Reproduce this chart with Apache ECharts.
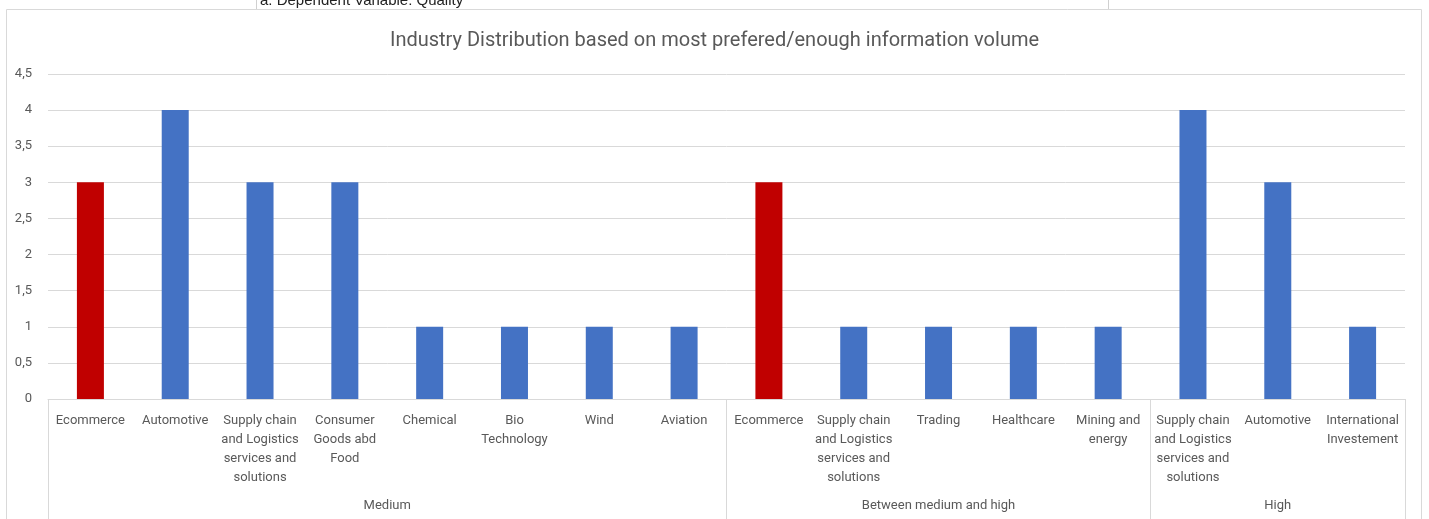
<!DOCTYPE html>
<html>
<head>
<meta charset="utf-8">
<script src="https://cdn.jsdelivr.net/npm/echarts@6/dist/echarts.min.js"></script>
<style>
  html, body { margin: 0; padding: 0; background: #fff; }
  #main { width: 1429px; height: 519px; }
</style>
</head>
<body>
<div id="main"></div>
<script>
// data
const categories = [
  'Ecommerce', 'Automotive', 'Supply chain\nand Logistics\nservices and\nsolutions',
  'Consumer\nGoods abd\nFood', 'Chemical', 'Bio\nTechnology', 'Wind', 'Aviation',
  'Ecommerce', 'Supply chain\nand Logistics\nservices and\nsolutions', 'Trading',
  'Healthcare', 'Mining and\nenergy',
  'Supply chain\nand Logistics\nservices and\nsolutions', 'Automotive',
  'International\nInvestement'
];
const values = [3, 4, 3, 3, 1, 1, 1, 1, 3, 1, 1, 1, 1, 4, 3, 1];
const groups = ['Medium', 'Between medium and high', 'High'];
const groupSizes = [8, 5, 3];
const highlighted = 'Ecommerce';
const yTicks = [0, 0.5, 1, 1.5, 2, 2.5, 3, 3.5, 4, 4.5];

// group boundaries / centres on a 0..16 value axis
const bounds = [0];
groupSizes.forEach(n => bounds.push(bounds[bounds.length - 1] + n));
const centres = groups.map((g, i) => (bounds[i] + bounds[i + 1]) / 2);

const font = 'Roboto, "Open Sans", sans-serif';
const grey = '#595959';

const myChart = echarts.init(document.getElementById('main'));

const option = {
  animation: false,
  title: {
    text: 'Industry Distribution based on most prefered/enough information volume',
    left: 'center',
    top: 26,
    textStyle: { fontFamily: font, fontSize: 20, fontWeight: 'normal', color: grey }
  },
  graphic: [
    { type: 'rect', shape: { x: 6.5, y: 9.5, width: 1415, height: 520 },
      style: { fill: 'none', stroke: '#d9d9d9', lineWidth: 1 }, z: -1 },
    { type: 'line', shape: { x1: 256.5, y1: 0, x2: 256.5, y2: 9 },
      style: { stroke: '#d0d0d0', lineWidth: 1 } },
    { type: 'line', shape: { x1: 1108.5, y1: 0, x2: 1108.5, y2: 9 },
      style: { stroke: '#d0d0d0', lineWidth: 1 } },
    { type: 'text', left: 260, top: -7,
      style: { text: 'a. Dependent Variable: Quality', fontFamily: 'Liberation Sans, Arial, sans-serif',
        fontSize: 15, fill: '#222' } }
  ],
  grid: { left: 48, right: 24, top: 74, bottom: 120 },
  xAxis: [
    {
      type: 'category',
      data: categories,
      axisLine: { lineStyle: { color: '#d9d9d9' } },
      axisTick: { show: false },
      axisLabel: {
        interval: 0,
        margin: 12,
        fontFamily: font,
        fontSize: 13,
        lineHeight: 19,
        color: grey
      }
    },
    {
      type: 'value',
      position: 'bottom',
      min: 0,
      max: categories.length,
      axisLine: { show: false },
      splitLine: { show: false },
      axisTick: {
        show: true,
        customValues: bounds,
        length: 125,
        lineStyle: { color: '#d9d9d9' }
      },
      axisLabel: {
        customValues: centres,
        margin: 100,
        fontFamily: font,
        fontSize: 13,
        color: grey,
        formatter: v => groups[centres.indexOf(v)] || ''
      }
    }
  ],
  yAxis: {
    type: 'value',
    min: 0,
    max: yTicks[yTicks.length - 1],
    interval: 0.5,
    axisLine: { show: false },
    axisTick: { show: false },
    splitLine: { lineStyle: { color: '#d9d9d9' } },
    axisLabel: {
      margin: 16,
      fontFamily: font,
      fontSize: 13,
      color: grey,
      formatter: v => String(v).replace('.', ',')
    }
  },
  series: [
    {
      type: 'bar',
      xAxisIndex: 0,
      data: values,
      barWidth: 27,
      itemStyle: {
        color: p => (p.name === highlighted ? '#c00000' : '#4472c4')
      }
    }
  ]
};

myChart.setOption(option);
</script>
</body>
</html>
